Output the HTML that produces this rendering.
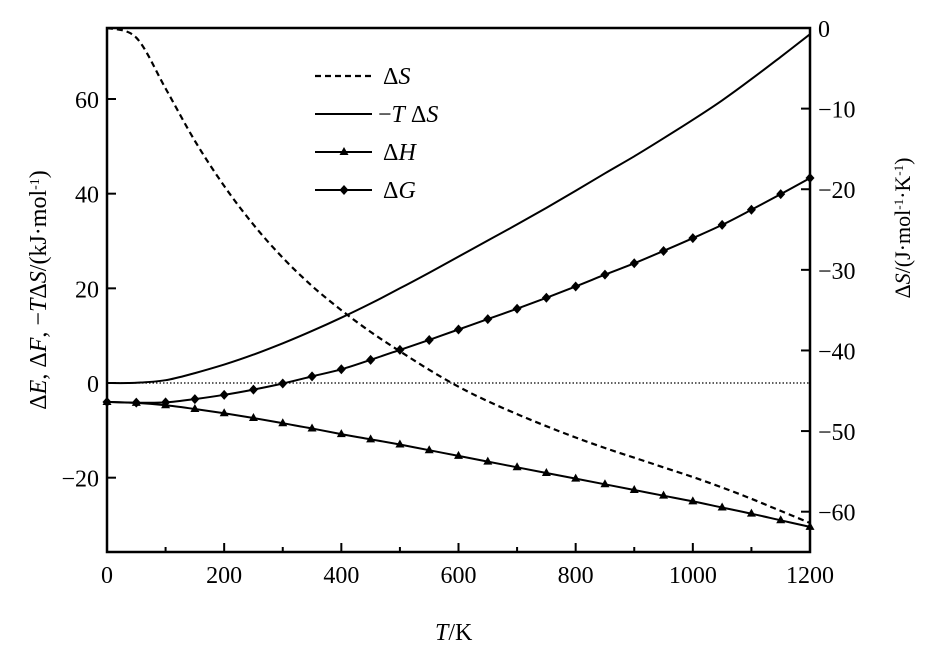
<!DOCTYPE html>
<html><head><meta charset="utf-8"><style>
body{margin:0;background:#fff;}
svg{font-family:"Liberation Serif",serif;}
</style></head><body>
<svg id="chart" width="926" height="665" viewBox="0 0 926 665" xmlns="http://www.w3.org/2000/svg" style="position:absolute;left:0;top:0">
<g id="plot"></g>
</svg>
<script>
const temps=[0,50,100,150,200,250,300,350,400,450,500,550,600,650,700,750,800,850,900,950,1000,1050,1100,1150,1200];
const dS=[0,-1.2,-7.5,-14,-19.6,-24.4,-28.5,-32,-35,-37.7,-40.1,-42.4,-44.5,-46.3,-47.9,-49.4,-50.8,-52.1,-53.3,-54.5,-55.7,-57,-58.4,-59.9,-61.4];
const mTdS=[0,0.05,0.6,2.1,3.9,6.0,8.4,11.0,13.8,16.8,20.0,23.3,26.7,30.1,33.5,37.0,40.6,44.3,47.9,51.7,55.6,59.7,64.2,68.9,73.7];
const dH=[-4,-4.2,-4.7,-5.5,-6.4,-7.4,-8.5,-9.6,-10.8,-11.9,-13.0,-14.2,-15.4,-16.6,-17.8,-19.0,-20.2,-21.4,-22.6,-23.8,-25.0,-26.3,-27.6,-29.0,-30.4];
const dG=[-4,-4.15,-4.1,-3.4,-2.5,-1.4,-0.1,1.4,2.9,4.9,7.0,9.1,11.3,13.5,15.7,18.0,20.4,22.9,25.3,27.9,30.6,33.4,36.6,39.9,43.3];
const xTicks=[0,200,400,600,800,1000,1200];
const yLeftTicks=[-20,0,20,40,60];
const yRightTicks=[0,-10,-20,-30,-40,-50,-60];

const L=107,R=810,T=28,B=552;
const x=v=>L+(v/1200)*(R-L);
const yl=v=>T+(75-v)/(75+35.7)*(B-T);
const yr=v=>T+(0-v)/65*(B-T);
const NS="http://www.w3.org/2000/svg";
const g=document.getElementById('plot');
function el(tag,attrs,parent){const e=document.createElementNS(NS,tag);for(const k in attrs)e.setAttribute(k,attrs[k]);(parent||g).appendChild(e);return e;}

let z=el('line',{x1:L,x2:R,y1:yl(0),y2:yl(0),stroke:'#000','stroke-width':1.3,'stroke-dasharray':'1.5,2'});



function path(vals,yf){
  const P=vals.map((v,i)=>[x(temps[i]),yf(v)]);
  let d='M'+P[0][0].toFixed(1)+','+P[0][1].toFixed(1);
  for(let i=0;i<P.length-1;i++){
    const p0=P[Math.max(0,i-1)],p1=P[i],p2=P[i+1],p3=P[Math.min(P.length-1,i+2)];
    const c1=[p1[0]+(p2[0]-p0[0])/6,p1[1]+(p2[1]-p0[1])/6];
    const c2=[p2[0]-(p3[0]-p1[0])/6,p2[1]-(p3[1]-p1[1])/6];
    d+=' C'+c1[0].toFixed(1)+','+c1[1].toFixed(1)+' '+c2[0].toFixed(1)+','+c2[1].toFixed(1)+' '+p2[0].toFixed(1)+','+p2[1].toFixed(1);
  }
  return d;
}
let p1=el('path',{d:path(dS,yr),fill:'none',stroke:'#000','stroke-width':2.2,'stroke-dasharray':'6,4'});


let p2=el('path',{d:path(mTdS,yl),fill:'none',stroke:'#000','stroke-width':2});


let p3=el('path',{d:path(dH,yl),fill:'none',stroke:'#000','stroke-width':2});


let p4=el('path',{d:path(dG,yl),fill:'none',stroke:'#000','stroke-width':2});


temps.forEach((t,i)=>{
  const cx=x(t),hy=yl(dH[i]),gy=yl(dG[i]);
  let tri=el('polygon',{points:`${cx},${hy-5} ${cx-4.5},${hy+3} ${cx+4.5},${hy+3}`,fill:'#000'});
  
  
  let dia=el('polygon',{points:`${cx},${gy-5} ${cx+4.5},${gy} ${cx},${gy+5} ${cx-4.5},${gy}`,fill:'#000'});
  
  
});

let fr=el('rect',{x:L,y:T,width:R-L,height:B-T,fill:'none',stroke:'#000','stroke-width':2.5});



for(let t=0;t<=1200;t+=100){let tk=el('line',{x1:x(t),x2:x(t),y1:B,y2:B-(t%200?5:9),stroke:'#000','stroke-width':2});

}
xTicks.forEach(t=>{let tx=el('text',{x:x(t),y:B+31,'text-anchor':'middle','font-size':24});tx.textContent=t;

});
yLeftTicks.forEach(v=>{let tk=el('line',{x1:L,x2:L+9,y1:yl(v),y2:yl(v),stroke:'#000','stroke-width':2});


let tx=el('text',{x:L-8,y:yl(v)+9,'text-anchor':'end','font-size':24});tx.textContent=v<0?'\u2212'+(-v):v;

});
yRightTicks.forEach(v=>{let tk=el('line',{x1:R,x2:R-9,y1:yr(v),y2:yr(v),stroke:'#000','stroke-width':2});


let tx=el('text',{x:R+8,y:yr(v)+9,'text-anchor':'start','font-size':24});tx.textContent=v<0?'\u2212'+(-v):v;

});
</script>
<svg style="position:absolute;left:0;top:0" width="926" height="665">
<g font-family="Liberation Serif, serif" font-size="24">
<text x="435" y="640"><tspan font-style="italic">T</tspan>/K</text>
<text transform="translate(46,290) rotate(-90)" text-anchor="middle">Δ<tspan font-style="italic">E</tspan>, Δ<tspan font-style="italic">F</tspan>, −<tspan font-style="italic">T</tspan>Δ<tspan font-style="italic">S</tspan>/(kJ·mol<tspan baseline-shift="super" font-size="14">-1</tspan>)</text>
<text transform="translate(910,228) rotate(-90)" text-anchor="middle" font-size="22">Δ<tspan font-style="italic">S</tspan>/(J·mol<tspan baseline-shift="super" font-size="13">-1</tspan>·K<tspan baseline-shift="super" font-size="13">-1</tspan>)</text>
<g>
<line x1="315" x2="372" y1="76" y2="76" stroke="#000" stroke-width="2.2" stroke-dasharray="6,4"/>
<text x="383" y="84">Δ<tspan font-style="italic">S</tspan></text>
<line x1="315" x2="372" y1="114" y2="114" stroke="#000" stroke-width="2"/>
<text x="378" y="122">−<tspan font-style="italic">T</tspan> Δ<tspan font-style="italic">S</tspan></text>
<line x1="315" x2="372" y1="152" y2="152" stroke="#000" stroke-width="2"/>
<polygon points="344,147 339.5,155 348.5,155" fill="#000"/>
<text x="383" y="160">Δ<tspan font-style="italic">H</tspan></text>
<line x1="315" x2="372" y1="190" y2="190" stroke="#000" stroke-width="2"/>
<polygon points="344,185 348.5,190 344,195 339.5,190" fill="#000"/>
<text x="383" y="198">Δ<tspan font-style="italic">G</tspan></text>
</g>
</g>
</svg>
</body></html>
